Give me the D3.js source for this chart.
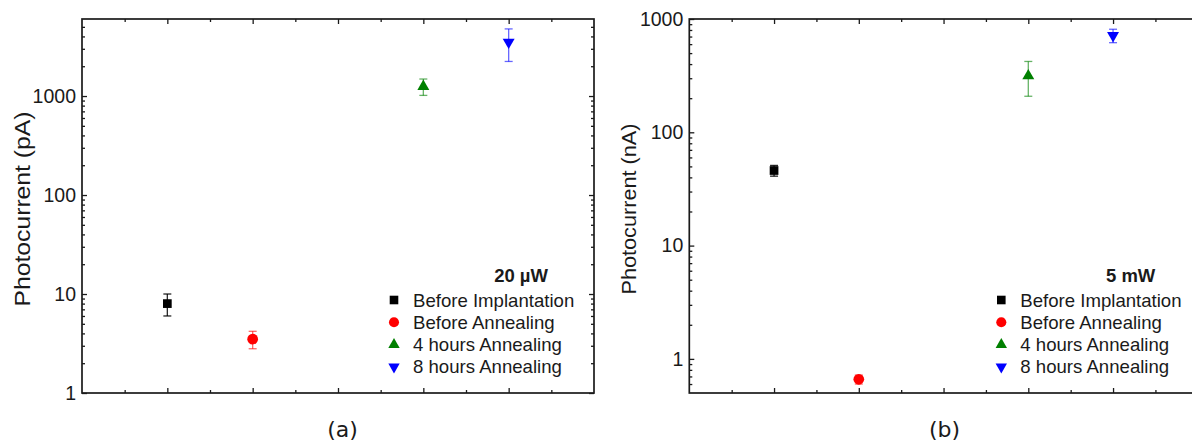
<!DOCTYPE html>
<html lang="en">
<head>
    <meta charset="UTF-8">
    <title>Photocurrent before and after annealing</title>
    <script src="https://cdnjs.cloudflare.com/ajax/libs/d3/7.8.5/d3.min.js"></script>
    <style>
        body {
            margin: 0;
            background: #fff;
            font-family: "Liberation Sans", Arial, sans-serif;
        }
        svg { display: block; overflow: hidden; }
        .tick text { fill: #1a1a1a; }
    </style>
</head>
<body>
    <div id="chart"></div>
    <script>
        // Data
        const conditions = ["Before Implantation", "Before Annealing", "4 hours Annealing", "8 hours Annealing"];
        const xPositions = [1, 2, 4, 5];
        const colors = ["#000000", "#ff0000", "#008000", "#0000ff"];
        const shapes = ["square", "circle", "triangle", "triangleDown"];

        // (a) 20 µW, pA
        const currentPA = [8, 3.5, 1250, 3500];
        const errorPA = [2, 0.7, 235, 1265];
        // (b) 5 mW, nA
        const currentNA = [46, 0.66, 315, 715];
        const errorNA = [5, 0.06, 107, 97];

        const yTickValues = [1, 10, 100, 1000];
        const xMajorTicks = [1, 2, 3, 4, 5];
        const xMinorTicks = [0.5, 1.5, 2.5, 3.5, 4.5, 5.5];

        const width = 1192;
        const height = 443;

        const svg = d3.select("#chart")
            .append("svg")
            .attr("width", width)
            .attr("height", height);

        const panels = [
            {
                left: 82, right: 594, top: 19, bottom: 393,
                yDomain: [1, 6000],
                values: currentPA, errors: errorPA,
                yLabel: "Photocurrent (pA)", labelX: 22, labelSize: 22, labelLength: 195,
                title: "20 µW", tag: "(a)", tagX: 342.5
            },
            {
                left: 689.3, right: 1197.8, top: 19, bottom: 393,
                yDomain: [0.5, 1000],
                values: currentNA, errors: errorNA,
                yLabel: "Photocurrent (nA)", labelX: 629.5, labelSize: 19.5, labelLength: 171,
                title: "5 mW", tag: "(b)", tagX: 944.5
            }
        ];

        function symbolPath(shape, size) {
            if (shape === "square") return d3.symbol(d3.symbolSquare, size.square)();
            if (shape === "circle") return d3.symbol(d3.symbolCircle, size.circle)();
            return d3.symbol(d3.symbolTriangle, size.triangle)();
        }

        function minorLogTicks(domain) {
            const ticks = [];
            for (let p = -1; p <= 4; p++) {
                for (let m = 2; m <= 9; m++) {
                    const v = m * Math.pow(10, p);
                    if (v > domain[0] && v < domain[1]) ticks.push(v);
                }
            }
            return ticks;
        }

        panels.forEach(function(p) {
            const x = d3.scaleLinear().domain([0, 6]).range([p.left, p.right]);
            const y = d3.scaleLog().domain(p.yDomain).range([p.bottom, p.top]);
            const g = svg.append("g");

            // Axes with ticks pointing inward
            const axisStyle = function(sel) {
                sel.select(".domain").remove();
                sel.selectAll(".tick line").attr("stroke", "#1a1a1a").attr("stroke-width", 1.3);
            };

            g.append("g").attr("transform", `translate(0,${p.bottom})`)
                .call(d3.axisBottom(x).tickValues(xMajorTicks).tickSize(-5).tickFormat(""))
                .call(axisStyle);
            g.append("g").attr("transform", `translate(0,${p.bottom})`)
                .call(d3.axisBottom(x).tickValues(xMinorTicks).tickSize(-3).tickFormat(""))
                .call(axisStyle);
            g.append("g").attr("transform", `translate(0,${p.top})`)
                .call(d3.axisTop(x).tickValues(xMajorTicks).tickSize(-5).tickFormat(""))
                .call(axisStyle);
            g.append("g").attr("transform", `translate(0,${p.top})`)
                .call(d3.axisTop(x).tickValues(xMinorTicks).tickSize(-3).tickFormat(""))
                .call(axisStyle);

            const minors = minorLogTicks(p.yDomain);
            g.append("g").attr("transform", `translate(${p.left},0)`)
                .call(d3.axisLeft(y).tickValues(yTickValues).tickSize(-5).tickPadding(6).tickFormat(d3.format("d")))
                .call(axisStyle)
                .selectAll("text")
                .style("font-family", "'Liberation Sans', Arial, sans-serif")
                .style("font-size", "19.5px");
            g.append("g").attr("transform", `translate(${p.left},0)`)
                .call(d3.axisLeft(y).tickValues(minors).tickSize(-3).tickFormat(""))
                .call(axisStyle);
            g.append("g").attr("transform", `translate(${p.right},0)`)
                .call(d3.axisRight(y).tickValues(yTickValues).tickSize(-5).tickFormat(""))
                .call(axisStyle);
            g.append("g").attr("transform", `translate(${p.right},0)`)
                .call(d3.axisRight(y).tickValues(minors).tickSize(-3).tickFormat(""))
                .call(axisStyle);

            // Frame
            g.append("rect")
                .attr("x", p.left).attr("y", p.top)
                .attr("width", p.right - p.left).attr("height", p.bottom - p.top)
                .attr("fill", "none").attr("stroke", "#1a1a1a").attr("stroke-width", 1.7);

            // Y axis label
            g.append("text")
                .attr("transform", `translate(${p.labelX},${(p.top + p.bottom) / 2 + 3}) rotate(-90)`)
                .attr("text-anchor", "middle")
                .attr("dy", "0.35em")
                .attr("textLength", p.labelLength)
                .attr("lengthAdjust", "spacingAndGlyphs")
                .style("font-size", p.labelSize + "px")
                .attr("fill", "#1a1a1a")
                .text(p.yLabel);

            // Error bars
            const data = conditions.map((c, i) => ({
                name: c, x: xPositions[i], v: p.values[i], e: p.errors[i],
                color: colors[i], shape: shapes[i]
            }));

            const bars = g.append("g").selectAll("g").data(data).enter().append("g")
                .attr("stroke", d => d.color)
                .attr("stroke-opacity", d => d.color === "#000000" ? 0.85 : 0.6)
                .attr("stroke-width", 1.3);
            bars.append("line")
                .attr("x1", d => x(d.x)).attr("x2", d => x(d.x))
                .attr("y1", d => y(d.v + d.e)).attr("y2", d => y(d.v - d.e));
            bars.append("line")
                .attr("x1", d => x(d.x) - 4).attr("x2", d => x(d.x) + 4)
                .attr("y1", d => y(d.v + d.e)).attr("y2", d => y(d.v + d.e));
            bars.append("line")
                .attr("x1", d => x(d.x) - 4).attr("x2", d => x(d.x) + 4)
                .attr("y1", d => y(d.v - d.e)).attr("y2", d => y(d.v - d.e));

            // Markers
            const markerSize = { square: 76, circle: 90, triangle: 62 };
            g.append("g").selectAll("path").data(data).enter().append("path")
                .attr("d", d => symbolPath(d.shape, markerSize))
                .attr("transform", d => `translate(${x(d.x)},${y(d.v)})` + (d.shape === "triangleDown" ? " rotate(180)" : ""))
                .attr("fill", d => d.color);

            // Legend
            const legend = g.append("g").attr("transform", `translate(${p.left},0)`);
            legend.append("text")
                .attr("x", 466).attr("y", 281.7)
                .attr("text-anchor", "end")
                .style("font-size", "18.5px").style("font-weight", "bold")
                .attr("fill", "#1a1a1a")
                .text(p.title);

            const legendSize = { square: 74, circle: 80, triangle: 56 };
            const rows = legend.selectAll(".row").data(data).enter().append("g")
                .attr("class", "row")
                .attr("transform", (d, i) => `translate(0,${300 + i * 22.3})`);
            rows.append("path")
                .attr("d", d => symbolPath(d.shape, legendSize))
                .attr("transform", d => "translate(312,0)" + (d.shape === "triangleDown" ? " rotate(180)" : ""))
                .attr("fill", d => d.color);
            rows.append("text")
                .attr("x", 331).attr("dy", "0.35em")
                .style("font-size", "18.6px")
                .attr("fill", "#1a1a1a")
                .text(d => d.name);

            // Panel tag
            svg.append("text")
                .attr("x", p.tagX).attr("y", 436.5)
                .attr("text-anchor", "middle")
                .style("font-family", "'DejaVu Sans', Verdana, sans-serif")
                .style("font-size", "22px")
                .attr("fill", "#1a1a1a")
                .text(p.tag);
        });
    </script>
</body>
</html>
